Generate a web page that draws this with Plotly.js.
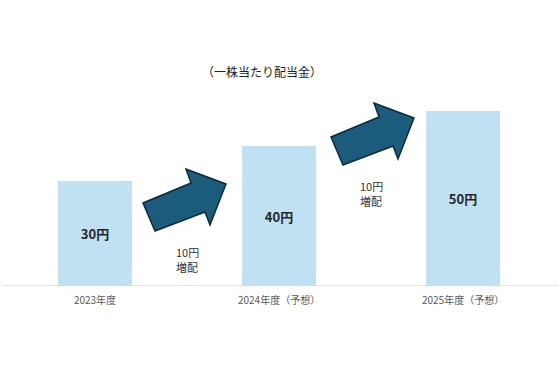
<!DOCTYPE html>
<html>
<head>
<meta charset="utf-8">
<script src="https://cdn.plot.ly/plotly-3.0.1.min.js"></script>
<style>html,body{margin:0;padding:0;background:#fff;}#chart{width:560px;height:372px;}</style>
</head>
<body>
<div id="chart"></div>
<script>
const categories = ["2023年度", "2024年度（予想）", "2025年度（予想）"];
const dividends = [30, 40, 50];
const increaseLabels = [["10円", "増配"], ["10円", "増配"]];
const chartTitle = "（一株当たり配当金）";

const FONT = "'Noto Sans CJK JP', 'Noto Sans', sans-serif";
const xs = categories.map((_, i) => i);

// plot geometry (px) used to place decorative arrows / text in axis units
const L = 3, R = 2, T = 50, B = 86, W = 560, H = 372;
const xRange = [-0.5, 2.516];
const yRange = [0, 67.43];
const pw = W - L - R, ph = H - T - B;
const pxX = p => xRange[0] + (p - L) / pw * (xRange[1] - xRange[0]);
const pxY = p => yRange[0] + (H - B - p) / ph * (yRange[1] - yRange[0]);

// arrow outline (px offsets from tail top-left corner)
const arrowTpl = [[0,0],[12,28],[62,9],[67,22],[83,-19],[43,-34],[48,-20]];
const arrowOrigins = [[143,203],[331,137]];
const arrowShapes = arrowOrigins.map(o => {
  const pts = arrowTpl.map(([dx,dy]) => [pxX(o[0]+dx), pxY(o[1]+dy)]);
  return {
    type: 'path', xref: 'x', yref: 'y',
    path: 'M ' + pts.map(p => p[0].toFixed(4) + ',' + p[1].toFixed(4)).join(' L ') + ' Z',
    fillcolor: '#1b5b7c', line: {color: '#0d2b3c', width: 1.5}, layer: 'above'
  };
});

// text line positions (px, top line) for the increase labels
const labelTops = [252, 186];
const annotations = [
  {text: chartTitle, xref: 'x', yref: 'y', x: pxX(262), y: pxY(71),
   showarrow: false, font: {family: FONT, size: 12, color: '#222'}}
];
increaseLabels.forEach((lines, i) => {
  lines.forEach((t, j) => {
    annotations.push({
      text: t, xref: 'x', yref: 'y', x: (xs[i] + xs[i+1]) / 2,
      y: pxY(labelTops[i] + j * 15), showarrow: false,
      font: {family: FONT, size: 11, color: '#333'}
    });
  });
});

const trace = {
  type: 'bar', x: xs, y: dividends, width: 0.402,
  marker: {color: '#bfe1f1', line: {width: 0}},
  texttemplate: '<b>%{y}円</b>', textposition: 'inside', insidetextanchor: 'middle',
  textangle: 0,
  textfont: {family: FONT, size: 13, color: '#262626'},
  hoverinfo: 'skip'
};

const layout = {
  width: W, height: H,
  margin: {l: L, r: R, t: T, b: B},
  paper_bgcolor: '#fff', plot_bgcolor: '#fff',
  showlegend: false,
  xaxis: {range: xRange, tickvals: xs, ticktext: categories, showgrid: false, zeroline: false,
    showline: false, ticks: '', fixedrange: true, ticklabelstandoff: 7,
    tickfont: {family: FONT, size: 10, color: '#595959'}},
  yaxis: {range: yRange, visible: false, showgrid: false, zeroline: false, fixedrange: true},
  shapes: [
    {type: 'line', xref: 'paper', yref: 'y', x0: 0, x1: 1, y0: 0, y1: 0,
     line: {color: '#d9d9d9', width: 1.5}, layer: 'below'},
    ...arrowShapes
  ],
  annotations: annotations
};

Plotly.newPlot('chart', [trace], layout, {displayModeBar: false, staticPlot: true});
</script>
</body>
</html>
